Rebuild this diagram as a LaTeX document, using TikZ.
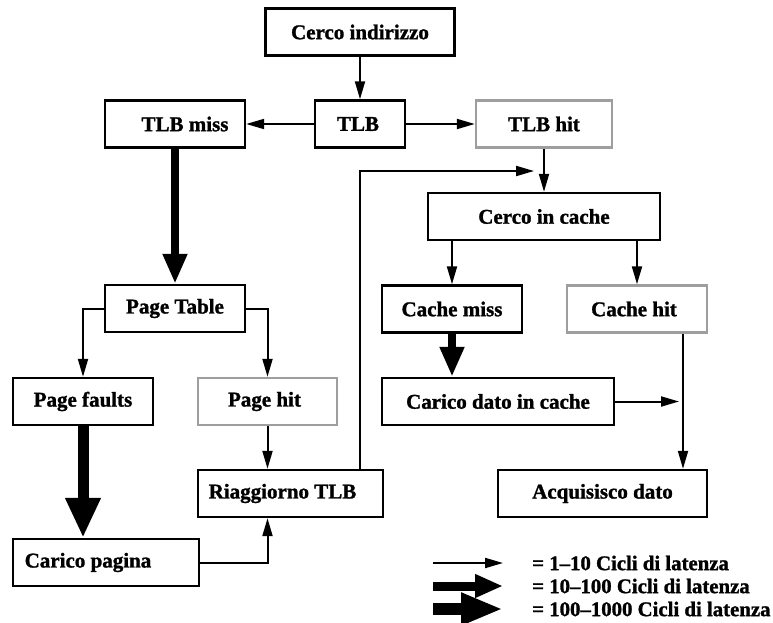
\documentclass[tikz,border=0pt]{standalone}
\usepackage{fontspec}
\setmainfont[BoldFeatures={FakeBold=1.3}]{Liberation Serif}
\usetikzlibrary{arrows.meta}
\tikzset{
  box/.style={draw, line width=2.4pt, minimum height=47pt, inner sep=0pt,
    font=\fontsize{21}{22}\selectfont\bfseries, fill=white},
  graybox/.style={box, draw=black!38},
  lbl/.style={font=\fontsize{20.8}{22}\selectfont\bfseries, inner sep=0pt, anchor=west},
  thinarr/.style={line width=2pt, -{Triangle[length=18pt,width=10pt]}},
  medarr/.style={line width=8pt, -{Triangle[length=30pt,width=23pt]}},
  thickarr/.style={line width=11pt, -{Triangle[length=40pt,width=33pt]}},
}
\begin{document}
\begin{tikzpicture}[x=1pt,y=-1pt]
\useasboundingbox (0,0) rectangle (773,623);
% boxes
\node[box, minimum width=189pt] (ci) at (360,32) {Cerco indirizzo};
\node[box, minimum width=90pt] (tlb) at (360,124) {TLB\hspace*{4pt}};
\node[box, minimum width=140pt] (tlbmiss) at (175,124) {\hspace*{20pt}TLB miss};
\node[graybox, minimum width=136pt] (tlbhit) at (544,124) {TLB hit};
\node[box, minimum width=232pt] (cic) at (544,216.5) {Cerco in cache};
\node[box, minimum width=140pt] (pt) at (175,308.5) {Page Table};
\node[box, minimum width=140pt] (cmiss) at (452,309) {Cache miss};
\node[graybox, minimum width=140pt] (chit) at (637,309) {Cache hit\hspace*{6pt}};
\node[box, minimum width=140pt] (pf) at (83,401.5) {Page faults};
\node[graybox, minimum width=139pt] (ph) at (267.5,401.5) {Page hit\hspace*{6pt}};
\node[box, minimum width=232pt] (cdc) at (498,401.5) {Carico dato in cache};
\node[box, minimum width=185pt] (rtlb) at (290.5,493.5) {Riaggiorno TLB\hspace*{16pt}};
\node[box, minimum width=209pt] (acq) at (602.5,493.5) {Acquisisco dato};
\node[box, minimum width=186pt] (cp) at (106,562.5) {Carico pagina\hspace*{36pt}};
% junctions
\coordinate (j1) at (544,171);
\coordinate (j2) at (683,401.5);
% connectors
\draw[thinarr] (ci.south) -- (tlb.north);
\draw[thinarr] (tlb.west) -- (tlbmiss.east);
\draw[thinarr] (tlb.east) -- (tlbhit.west);
\draw[medarr] (tlbmiss.south) -- (pt.north);
\draw[thinarr] (tlbhit.south) -- (cic.north);
\draw[thinarr] ([xshift=69.5pt]rtlb.north) |- ([xshift=-10pt]j1);
\draw[thinarr] (cmiss.north |- cic.south) -- (cmiss.north);
\draw[thinarr] (chit.north |- cic.south) -- (chit.north);
\draw[thinarr] (pt.west) -| (pf.north);
\draw[thinarr] (pt.east) -| (ph.north);
\draw[thickarr] (pf.south) -- (pf.south |- cp.north);
\draw[thinarr] (ph.south) -- (ph.south |- rtlb.north);
\draw[thinarr] (cp.east) -| (ph.south |- rtlb.south);
\draw[medarr] (cmiss.south) -- (cmiss.south |- cdc.north);
\draw[thinarr] (j2 |- chit.south) -- (j2 |- acq.north);
\draw[thinarr] (cdc.east) -- ([xshift=-4pt]j2);
% legend
\coordinate (l1a) at (433,563); \coordinate (l1b) at (503,563);
\coordinate (l2a) at (433,586); \coordinate (l2b) at (503,586);
\coordinate (l3a) at (433,609); \coordinate (l3b) at (503,609);
\draw[thinarr] (l1a) -- (l1b);
\draw[line width=9pt, -{Triangle[length=28pt,width=22pt]}] (l2a) -- (l2b);
\draw[line width=12pt, -{Triangle[length=42pt,width=30pt]}] (l3a) -- (l3b);
\node[lbl] (lg1) at (532,563) {= 1–10 Cicli di latenza};
\node[lbl] (lg2) at (532,586) {= 10–100 Cicli di latenza};
\node[lbl] (lg3) at (532,609) {= 100–1000 Cicli di latenza};
\end{tikzpicture}
\end{document}
